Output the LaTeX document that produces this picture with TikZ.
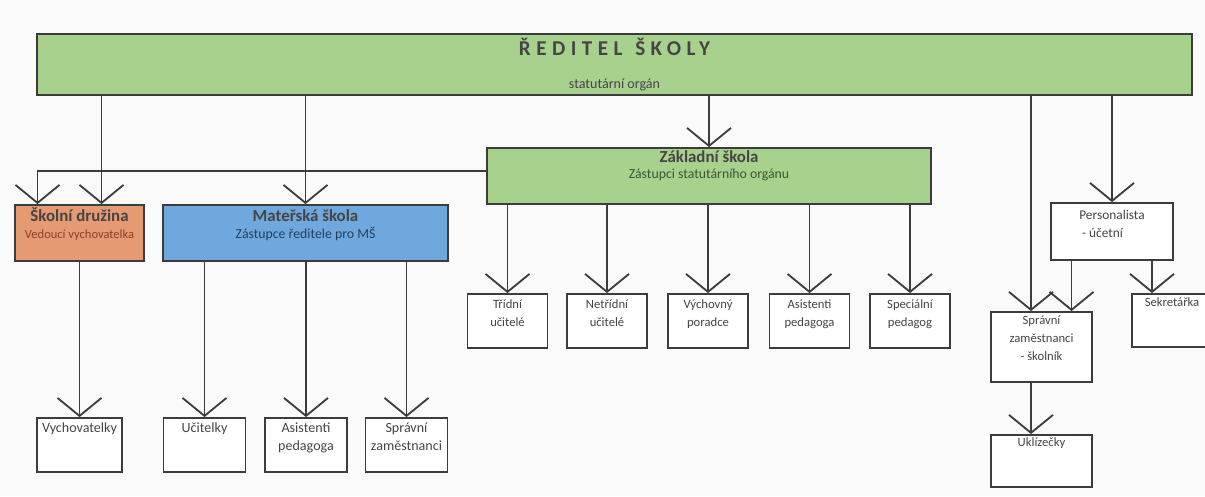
\documentclass[tikz,border=0pt]{standalone}
\usepackage{fontspec}
\setmainfont{Carlito}
\usetikzlibrary{arrows.meta}
\definecolor{bgc}{HTML}{FAFAFA}
\definecolor{linegray}{HTML}{3C3C3C}
\definecolor{txtgray}{HTML}{454545}
\definecolor{zsgreen}{HTML}{A9D18E}
\definecolor{sdorange}{HTML}{E59A74}
\definecolor{msblue}{HTML}{6FA8DC}
\definecolor{sdsub}{HTML}{8E3E2C}
\definecolor{mssub}{HTML}{23415F}
\definecolor{zssub}{HTML}{3B5530}
\newcommand{\hdtitle}[1]{{\bfseries\fontsize{12}{14}\selectfont #1}}
\newcommand{\toplines}[2][c]{\begin{tabular}[t]{@{}#1@{}}#2\end{tabular}}
\tikzset{
  hdr/.style={draw=linegray, line width=1.3pt, inner sep=0pt,
    text=txtgray, font=\fontsize{9.8}{11.5}\selectfont},
  leaf/.style={draw=linegray, line width=1.3pt, fill=white, inner sep=0pt,
    text=txtgray, font=\fontsize{9}{12.8}\selectfont,
    minimum width=#1, text height=10.5pt, text depth=27.9pt},
  leaf/.default=2cm,
  lower/.style={font=\fontsize{10}{12.8}\selectfont, text height=10pt, text depth=28.4pt},
  arr/.style={draw=linegray, line width=1.3pt,
    -{Straight Barb[length=0.45cm,width=1.1cm]}}
}

\begin{document}
\begin{tikzpicture}[x=0.025cm,y=-0.025cm]
\path[use as bounding box, fill=bgc] (0,0) rectangle (1205,496);

\node[hdr, fill=zsgreen, minimum width=28.875cm, text height=15pt, text depth=28.4pt] (red) at (614.5,64.5)
  {\toplines{{\bfseries\fontsize{15}{16}\selectfont\addfontfeature{LetterSpace=26}ŘEDITEL\hspace{0.6em}ŠKOLY}\\[12pt]{\fontsize{10}{11}\selectfont statutární orgán}}};

\node[hdr, fill=sdorange, minimum width=3.225cm, text height=12pt, text depth=27.8pt] (sd) at (79.5,233)
  {\toplines{\hdtitle{Školní družina}\\{\color{sdsub}\fontsize{8.9}{11}\selectfont Vedoucí vychovatelka}}};
\node[hdr, fill=msblue, minimum width=7.125cm, text height=12pt, text depth=27.8pt] (ms) at (305.5,233)
  {\toplines{\hdtitle{Mateřská škola}\\{\color{mssub}Zástupce ředitele pro MŠ}}};
\node[hdr, fill=zsgreen, minimum width=11.1cm, text height=10pt, text depth=29.8pt] (zs) at (709,176)
  {\toplines{\hdtitle{Základní škola}\\{\color{zssub}Zástupci statutárního orgánu}}};

\node[leaf] (tu) at (507.5,321) {\toplines{Třídní\\učitelé}};
\node[leaf] (nu) at (607,321) {\toplines{Netřídní\\učitelé}};
\node[leaf] (vp) at (708,321) {\toplines{Výchovný\\poradce}};
\node[leaf] (az) at (809.5,321) {\toplines{Asistenti\\pedagoga}};
\node[leaf] (sp) at (910,321) {\toplines{Speciální\\pedagog}};

\node[leaf=2.125cm, lower] (vy) at (79.5,445) {Vychovatelky};
\node[leaf=2.05cm, lower] (uc) at (204.5,445) {Učitelky};
\node[leaf=2.05cm, lower] (am) at (306,445) {\toplines{Asistenti\\pedagoga}};
\node[leaf=2.05cm, lower] (sm) at (406.5,445) {\toplines{Správní\\zaměstnanci}};

\node[leaf=3.05cm, font=\fontsize{9.5}{12.8}\selectfont, text height=12pt, text depth=28.5pt] (pe) at (1112,231.5) {\toplines[l]{Personalista\\\hspace*{0.2em}- účetní}};
\node[leaf=2.525cm, text height=9pt, text depth=40.8pt] (sz) at (1041.5,347) {\toplines{Správní\\zaměstnanci\\- školník}};
\node[leaf=2cm, text height=9pt, text depth=28.7pt] (se) at (1172,320.5) {Sekretářka};
\node[leaf=2.525cm, text height=8.5pt, text depth=28.5pt] (uk) at (1041.5,461) {Uklízečky};

\coordinate (sdin) at ([xshift=0.55cm]sd.north);
\coordinate (sdin2) at ([xshift=-1.05cm]sd.north);
\coordinate (szin) at ([xshift=-0.2625cm]sz.north);
\coordinate (szin2) at ([xshift=0.75cm]sz.north);
\coordinate (sein) at ([xshift=-0.5cm]se.north);
\coordinate (ukin) at ([xshift=-0.2625cm]uk.north);

\draw[arr] (red.south -| sdin) -- (sdin);
\draw[arr] (red.south -| ms.north) -- (ms.north);
\draw[arr] (red.south -| zs.north) -- (zs.north);
\draw[arr] (red.south -| szin) -- (szin);
\draw[arr] (red.south -| pe.north) -- (pe.north);
\draw[arr] ([yshift=0.125cm]zs.west) -| (sdin2);
\foreach \n in {tu,nu,vp,az,sp}
  \draw[arr] (zs.south -| \n.north) -- (\n.north);
\draw[arr] (sd.south) -- (vy.north);
\foreach \n in {uc,am,sm}
  \draw[arr] (ms.south -| \n.north) -- (\n.north);
\draw[arr] (pe.south -| szin2) -- (szin2);
\draw[arr] (pe.south -| sein) -- (sein);
\draw[arr] (sz.south -| ukin) -- (ukin);
\end{tikzpicture}
\end{document}
